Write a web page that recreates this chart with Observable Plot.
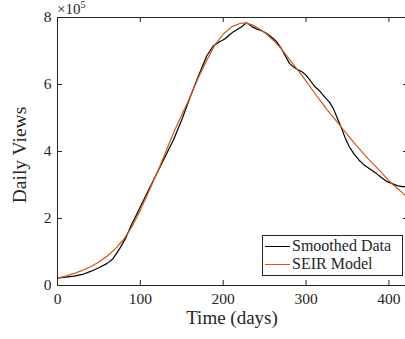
<!DOCTYPE html>
<html><head><meta charset="utf-8">
<script src="https://cdn.jsdelivr.net/npm/d3@7"></script>
<script src="https://cdn.jsdelivr.net/npm/@observablehq/plot@0.6"></script>
<style>
body{margin:0;background:#fff}
#wrap{position:relative;width:405px;height:339px;overflow:hidden;font-family:"Liberation Serif","Times New Roman",serif;color:#262626}
#wrap svg, #wrap svg g, #wrap svg text{font-family:"Liberation Serif","Times New Roman",serif !important}
.abs{position:absolute;white-space:nowrap}
#legend{position:absolute;left:262px;top:235px;width:139px;height:39px;border:1px solid #262626;background:#fff;font-size:16px}
.row{position:absolute;left:2px;height:18px;line-height:18px}
.sw{display:inline-block;width:25px;height:0;border-top:1.3px solid;vertical-align:middle;margin-right:2px;position:relative;top:-1px}
</style>
</head><body><div id="wrap"></div>
<script>
// Smoothed data (daily views, ×10^5)
const dataDays = [0,10,20,30,40,50,60,67,75,82,90,95,100,110,120,130,140,150,160,170,180,188,195,202,207,212,218,223,228,231,235,240,245,250,255,260,265,270,275,280,285,290,295,300,305,310,316,322,328,333,338,342,347,352,358,364,370,378,385,392,398,404,410,416,420];
const dataViews = [0.22,0.25,0.28,0.33,0.42,0.53,0.66,0.80,1.10,1.40,1.85,2.10,2.35,2.85,3.35,3.85,4.35,4.95,5.62,6.25,6.85,7.15,7.27,7.36,7.47,7.57,7.66,7.74,7.84,7.80,7.72,7.66,7.62,7.56,7.48,7.38,7.26,7.08,6.85,6.63,6.52,6.44,6.38,6.28,6.12,5.95,5.82,5.64,5.48,5.28,4.98,4.75,4.42,4.15,3.92,3.74,3.60,3.46,3.34,3.20,3.10,3.04,2.98,2.95,2.95];
// SEIR model fit (×10^5)
const modelDays = [0,10,20,30,40,50,60,70,80,90,100,110,120,130,140,150,160,170,180,190,200,210,220,226,235,245,252,260,270,280,292,300,314,325,336,344,360,375,390,403,420];
const modelViews = [0.22,0.28,0.36,0.45,0.56,0.70,0.88,1.10,1.38,1.76,2.25,2.80,3.35,3.95,4.55,5.10,5.62,6.20,6.72,7.18,7.50,7.72,7.82,7.84,7.78,7.64,7.51,7.33,7.07,6.75,6.37,6.10,5.62,5.26,4.93,4.68,4.20,3.78,3.40,3.05,2.69];
const seriesNames = ["Smoothed Data","SEIR Model"];
const seriesColors = ["#000000","#D95319"];
const xTicks = [0,100,200,300,400];
const yTicks = [0,2,4,6,8];
const xDomain = [0,420];
const yDomain = [0,8];

const W = 405, H = 339, mL = 57, mR = 0, mT = 17, mB = 54;
const pw = W - mL - mR, ph = H - mT - mB, tl = 5;
const serif = "Liberation Serif, Times New Roman, serif";

const smoothed = dataDays.map((d,i)=>({day:d, v:dataViews[i]}));
const model = modelDays.map((d,i)=>({day:d, v:modelViews[i]}));

const chart = Plot.plot({
  width: W, height: H,
  marginLeft: mL, marginRight: mR, marginTop: mT, marginBottom: mB,
  style: {fontFamily: serif, fontSize: "15px", color: "#262626", background: "transparent"},
  x: {domain: xDomain, label: null},
  y: {domain: yDomain, label: null},
  marks: [
    Plot.line(smoothed, {x:"day", y:"v", stroke: seriesColors[0], strokeWidth: 1.2}),
    Plot.line(model, {x:"day", y:"v", stroke: seriesColors[1], strokeWidth: 1.2}),
    Plot.ruleY(yDomain, {stroke:"#262626"}),
    Plot.ruleX([xDomain[0]], {stroke:"#262626"}),
    Plot.tickX(xTicks, {x: d=>d, stroke:"#262626", insetTop: ph - tl}),
    Plot.tickX(xTicks, {x: d=>d, stroke:"#262626", insetBottom: ph - tl}),
    Plot.tickY(yTicks, {y: d=>d, stroke:"#262626", insetRight: pw - tl}),
    Plot.tickY(yTicks, {y: d=>d, stroke:"#262626", insetLeft: pw - tl + 3}),
    Plot.axisX(xTicks, {tickSize: 0, tickPadding: 7, fontSize: 15.5, fontFamily: serif, fill:"#262626", label: null}),
    Plot.axisY(yTicks, {tickSize: 0, tickPadding: 6, fontSize: 15.5, fontFamily: serif, fill:"#262626", label: null})
  ]
});
chart.style.fontFamily = serif;
const wrap = document.getElementById("wrap");
wrap.appendChild(chart);

function addText(html, css){ const d=document.createElement("div"); d.className="abs"; d.innerHTML=html; Object.assign(d.style, css); wrap.appendChild(d); return d; }
addText("Daily Views", {left:"20px", top:"155px", fontSize:"19.5px", transform:"translate(-50%,-50%) rotate(-90deg)"});
addText("Time (days)", {left:"232px", top:"318px", fontSize:"19px", transform:"translate(-50%,-50%)"});
addText('×10<span style="font-size:10px;position:relative;top:-6px">5</span>', {left:"57px", top:"2px", fontSize:"15px", lineHeight:"15px"});

const leg = document.createElement("div"); leg.id="legend";
seriesNames.forEach((n,i)=>{
  const r=document.createElement("div"); r.className="row"; r.style.top=(i===0?1:19)+"px";
  r.innerHTML=`<span class="sw" style="border-color:${seriesColors[i]}"></span>${n}`;
  leg.appendChild(r);
});
wrap.appendChild(leg);
</script>
</body></html>
